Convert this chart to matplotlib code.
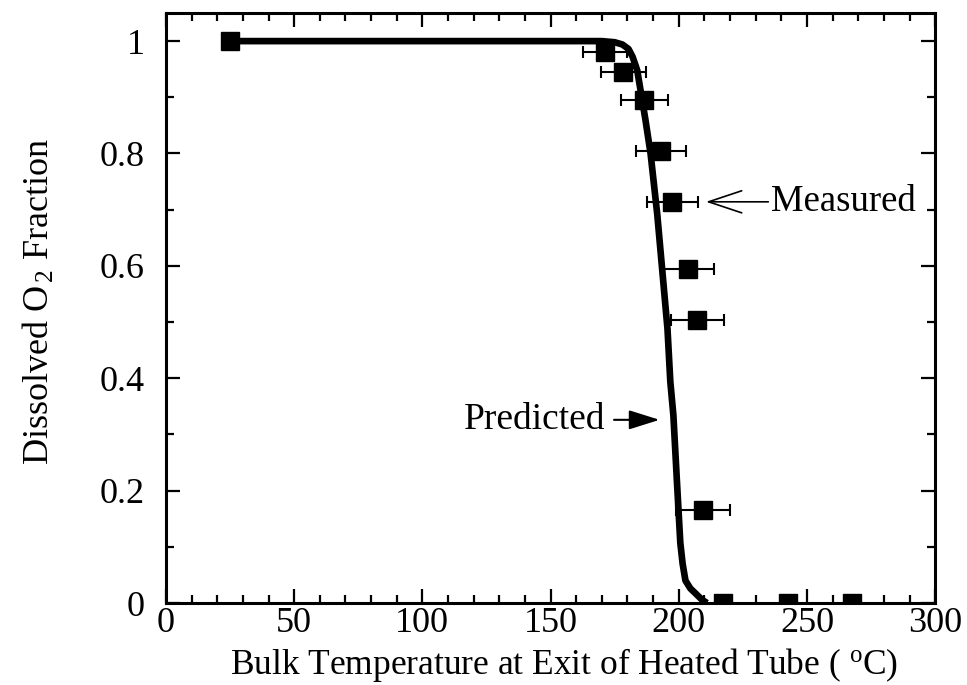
import matplotlib
matplotlib.use("Agg")
import matplotlib.pyplot as plt
from matplotlib.ticker import MultipleLocator, FuncFormatter

plt.rcParams['font.family'] = ['Liberation Serif', 'DejaVu Serif']
plt.rcParams['mathtext.fontset'] = 'custom'
plt.rcParams['mathtext.rm'] = 'Liberation Serif'
plt.rcParams['mathtext.it'] = 'Liberation Serif:italic'

# measured dissolved O2 fraction vs bulk exit temperature
temp_meas = [25, 171.4, 178.4, 186.6, 193.2, 197.5, 203.5, 207.2, 209.6, 217.4, 242.7, 267.6]
o2_meas = [1.0, 0.98, 0.945, 0.896, 0.805, 0.714, 0.594, 0.503, 0.166, 0.0, 0.0, 0.0]
# horizontal uncertainty, +/- 5% of temperature for the heated-tube points
temp_err = [0, 8.6, 8.9, 9.3, 9.7, 9.9, 10.2, 10.4, 10.5, 0, 0, 0]

# model prediction
temp_pred = [25, 170, 175, 178, 180.4, 182, 183.8, 185, 187, 189, 191.6, 193.6,
             195.6, 196.7, 197.9, 199.3, 200.6, 201.5, 202.6, 204.5, 207, 209, 211]
o2_pred = [1.0, 1.0, 0.998, 0.994, 0.986, 0.972, 0.948, 0.915, 0.86, 0.8, 0.692, 0.59,
           0.488, 0.394, 0.334, 0.215, 0.107, 0.07, 0.04, 0.026, 0.015, 0.006, 0.0]

fig = plt.figure(figsize=(9.67, 6.85), dpi=100)
ax = fig.add_axes([0.1716, 0.1197, 0.7955, 0.8613])

ax.plot(temp_pred, o2_pred, color='black', lw=4.8, solid_capstyle='butt', zorder=2)
ax.errorbar(temp_meas, o2_meas, xerr=temp_err, fmt='s', color='black',
            markersize=13, ecolor='black', elinewidth=1.5, capsize=4.5,
            capthick=1.5, zorder=3)

ax.annotate('Measured', xy=(210.6, 0.714), xytext=(236, 0.714),
            fontsize=26.5, va='center', ha='left',
            arrowprops=dict(arrowstyle='->,head_length=0.9,head_width=0.3',
                            color='black', lw=1.2, shrinkA=0, shrinkB=0))
ax.annotate('Predicted', xy=(192.5, 0.326), xytext=(171.5, 0.326),
            fontsize=27, va='center', ha='right',
            arrowprops=dict(arrowstyle='-|>,head_length=0.7,head_width=0.22',
                            color='black', lw=1.5, shrinkA=4, shrinkB=0))

ax.set_xlim(0, 300)
ax.set_ylim(0, 1.05)
ax.xaxis.set_major_locator(MultipleLocator(50))
ax.xaxis.set_minor_locator(MultipleLocator(10))
ax.yaxis.set_major_locator(MultipleLocator(0.2))
ax.yaxis.set_minor_locator(MultipleLocator(0.1))
ax.yaxis.set_major_formatter(FuncFormatter(lambda v, p: f'{v:g}'))

ax.tick_params(which='both', direction='in', top=True, right=True,
               labelsize=26, width=1.6)
ax.tick_params(which='major', length=10)
ax.tick_params(which='minor', length=6)
ax.tick_params(axis='y', which='major', pad=15)
ax.tick_params(axis='x', which='major', pad=3)
for s in ax.spines.values():
    s.set_linewidth(2.2)

ax.set_xlabel('Bulk Temperature at Exit of Heated Tube ( $^{\\rm o}$C)', fontsize=25.5,
              va='bottom')
ax.set_ylabel('Dissolved O$_{\\,2}$ Fraction', fontsize=26)
ax.xaxis.set_label_coords(0.518, -0.1365)
ax.yaxis.set_label_coords(-0.142, 0.512)

fig.savefig('out.png', dpi=100)
